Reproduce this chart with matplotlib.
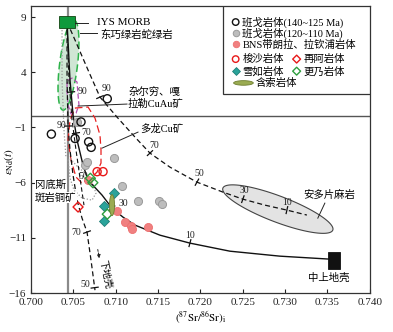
import numpy as np
import matplotlib
matplotlib.use('Agg')
import matplotlib.pyplot as plt
from matplotlib.patches import Rectangle, Ellipse, Polygon

plt.rcParams['font.family'] = ['Liberation Serif', 'Noto Sans CJK SC']
plt.rcParams['mathtext.fontset'] = 'stix'
plt.rcParams['axes.unicode_minus'] = True

# ---------------- data ----------------
bango_old_x = [0.7090, 0.7024, 0.7059, 0.7052, 0.7068, 0.7071]
bango_old_y = [1.6, -1.6, -0.5, -2.0, -2.3, -2.8]
bango_young_x = [0.7054, 0.7098, 0.7064, 0.7066, 0.7107, 0.7126, 0.7151, 0.7155]
bango_young_y = [-0.5, -3.8, -4.4, -4.1, -6.3, -7.7, -7.7, -7.9]
bns_x = [0.7111, 0.7118, 0.7119, 0.7138, 0.7102, 0.7067]
bns_y = [-9.6, -9.9, -10.2, -10.0, -8.6, -5.8]
suosha_x = [0.7078, 0.7085]
suosha_y = [-5.0, -5.0]
zaia_x = [0.70555]
zaia_y = [-8.2]
xueru_x = [0.7098, 0.7086, 0.7086]
xueru_y = [-6.9, -8.1, -9.5]
gengnai_x = [0.7070, 0.7073, 0.7090]
gengnai_y = [-5.6, -6.0, -8.85]
hansuo_center = (0.70956, -8.03)
hansuo_size = (0.0006, 1.9)

# end members
morb_x, morb_y = [0.70330, 0.70519], [8.0, 9.09]
ucc_x, ucc_y = [0.73504, 0.73646], [-13.83, -12.29]
bulk_earth_sr = 0.7044
chur_nd = 0.0

# mixing curve MORB -> upper crust (solid)
mix_uc_x = [0.70425, 0.70460, 0.70496, 0.70543, 0.70614, 0.70673, 0.70838, 0.70956,
            0.71086, 0.71227, 0.71522, 0.71876, 0.72348, 0.72938, 0.73528]
mix_uc_y = [8.55, 3.29, 0.12, -2.14, -4.41, -5.76, -7.12, -8.30,
            -9.12, -9.84, -10.75, -11.47, -12.20, -12.65, -12.92]
mix_uc_tick_x = [0.70472, 0.70531, 0.70673, 0.70956, 0.71876]
mix_uc_tick_y = [2.21, -1.51, -5.76, -8.30, -11.47]
mix_uc_labels = ['90', '70', '50', '30', '10']

# mixing curve MORB -> Amdo gneiss (dashed)
mix_amdo_x = [0.70425, 0.70519, 0.70673, 0.70814, 0.71015, 0.71227, 0.71404, 0.71640,
              0.71959, 0.72265, 0.72501, 0.72761, 0.73021, 0.73257]
mix_amdo_y = [8.55, 6.92, 4.20, 1.75, -0.06, -1.87, -3.32, -4.59,
              -5.95, -6.85, -7.49, -8.03, -8.48, -8.93]
mix_amdo_tick_x = [0.70814, 0.71404, 0.71959, 0.72501, 0.73021]
mix_amdo_tick_y = [1.75, -3.32, -5.95, -7.49, -8.48]
mix_amdo_labels = ['90', '70', '50', '30', '10']

# mixing curve MORB -> lower crust (dashed)
mix_lc_x = [0.70425, 0.70425, 0.70437, 0.70460, 0.70496, 0.70543, 0.70602, 0.70661, 0.70708, 0.70755]
mix_lc_y = [8.55, 3.29, -0.87, -3.05, -5.31, -7.58, -9.21, -10.47, -13.01, -15.73]
mix_lc_tick_x = [0.70437, 0.70661, 0.70752]
mix_lc_tick_y = [-0.87, -10.47, -15.5]
mix_lc_labels = ['90', '70', '50']

# second dashed line towards Gangdese field
mix_gd_x = [0.70425, 0.70448, 0.70484, 0.70531, 0.70578, 0.70625]
mix_gd_y = [8.55, 3.29, -0.33, -3.05, -5.58, -8.03]

# dotted line + Gangdese porphyry Cu field
dot_x = [0.70366, 0.70366, 0.70389, 0.70413]
dot_y = [7.82, 3.29, -1.24, -3.77]
gangdese_x = [0.70437, 0.70460, 0.70507, 0.70602, 0.70720, 0.70767, 0.70720, 0.70625, 0.70531, 0.70460]
gangdese_y = [-3.95, -5.58, -6.67, -7.39, -7.58, -6.94, -5.95, -5.04, -4.41, -3.77]

# Zaergiong / Galale CuAu field (purple)
zeq_x = [0.70437, 0.70484, 0.70543, 0.70555, 0.70566, 0.70531, 0.70472, 0.70437, 0.70425, 0.70425]
zeq_y = [3.29, 3.47, 3.11, 1.93, 1.03, 0.30, 0.21, 1.03, 2.21, 2.93]

# Duolong Cu field (red)
duolong_x = [0.70519, 0.70673, 0.70755, 0.70814, 0.70826, 0.70826, 0.70779, 0.70696,
             0.70602, 0.70531, 0.70472, 0.70437, 0.70460]
duolong_y = [0.76, 0.85, -0.15, -1.69, -3.05, -4.22, -5.04, -5.67,
             -6.04, -5.49, -3.95, -2.14, -0.33]

# Dongqiao ophiolite field (ellipse: centre, semi-axis vectors)
dq_center = (0.70442, 4.65)
dq_axis1 = (0.00065, 4.08)
dq_axis2 = (0.00105, -0.10)

# Amdo gneiss field
amdo_center = (0.72914, -8.39)
amdo_axis1 = (0.00649, -1.90)
amdo_axis2 = (-0.00054, -1.10)

xticks = [0.700, 0.705, 0.710, 0.715, 0.720, 0.725, 0.730, 0.735, 0.740]
yticks = [9, 4, -1, -6, -11, -16]

# ---------------- figure ----------------
fig = plt.figure(figsize=(3.93, 3.32), dpi=100)
ax = fig.add_axes([0.079, 0.117, 0.862, 0.865])
ax.set_xlim(0.700, 0.740)
ax.set_ylim(-16, 10)

ax.set_xticks(xticks)
ax.set_xticklabels(['%.3f' % v for v in xticks])
ax.set_yticks(yticks)
ax.set_yticklabels(['\u2212%d' % -v if v < 0 else '%d' % v for v in yticks])
ax.tick_params(direction='in', length=3, width=0.8, labelsize=8, colors='#222')
for s in ax.spines.values():
    s.set_color('#333')
    s.set_linewidth(0.9)

ax.set_xlabel(r'$(^{87}\mathrm{Sr}/^{86}\mathrm{Sr})_\mathrm{i}$', fontsize=8, labelpad=2)
ax.set_ylabel(r'$\varepsilon_\mathrm{Nd}(t)$', fontsize=8)
ax.yaxis.set_label_coords(-0.045, 0.46)

# reference lines
ax.axvline(bulk_earth_sr, color='#8a8a8a', lw=1.6, zorder=1)
ax.axhline(chur_nd, color='#555', lw=1.0, zorder=1)

def ellipse_pts(c, a1, a2, n=200):
    t = np.linspace(0, 2 * np.pi, n)
    return np.column_stack([c[0] + a1[0] * np.cos(t) + a2[0] * np.sin(t),
                            c[1] + a1[1] * np.cos(t) + a2[1] * np.sin(t)])

# fields
ax.add_patch(Polygon(ellipse_pts(dq_center, dq_axis1, dq_axis2), closed=True,
                     fc='#cfe6d4', ec='#2db34a', lw=1.1, ls=(0, (5, 2.5)), zorder=2))
ax.add_patch(Polygon(ellipse_pts(amdo_center, amdo_axis1, amdo_axis2), closed=True,
                     fc='#e3e3e3', ec='#444', lw=0.8, zorder=2))
ax.add_patch(Polygon(np.column_stack([zeq_x, zeq_y]), closed=True, fill=False,
                     ec='#b050b0', lw=0.9, ls=(0, (4, 2)), zorder=3))
ax.add_patch(Polygon(np.column_stack([duolong_x, duolong_y]), closed=True, fill=False,
                     ec='#e82020', lw=0.9, ls=(0, (6, 3)), zorder=3))
ax.add_patch(Polygon(np.column_stack([gangdese_x, gangdese_y]), closed=True, fill=False,
                     ec='#999', lw=0.9, ls=(0, (1, 1.5)), zorder=3))
ax.plot(dot_x, dot_y, color='#999', lw=0.9, ls=(0, (1, 1.5)), zorder=3)

# mixing curves
ax.plot(mix_uc_x, mix_uc_y, color='#111', lw=1.0, zorder=4)
ax.plot(mix_amdo_x, mix_amdo_y, color='#111', lw=0.9, ls=(0, (4, 2.5)), zorder=4)
ax.plot(mix_lc_x, mix_lc_y, color='#111', lw=0.9, ls=(0, (4, 2.5)), zorder=4)
ax.plot(mix_gd_x, mix_gd_y, color='#111', lw=0.8, ls=(0, (4, 2.5)), zorder=4)


def curve_ticks(cx, cy, tx, ty, labels, offs, half=3.5):
    P = ax.transData.transform(np.column_stack([cx, cy]))
    inv = ax.transData.inverted()
    for x, y, lab, (ox, oy) in zip(tx, ty, labels, offs):
        q = ax.transData.transform((x, y))
        best = None
        for i in range(len(P) - 1):
            a, b = P[i], P[i + 1]
            d = b - a
            L2 = (d ** 2).sum()
            if L2 == 0:
                continue
            t = np.clip(((q - a) @ d) / L2, 0, 1)
            proj = a + t * d
            dist = np.hypot(*(q - proj))
            if best is None or dist < best[0]:
                best = (dist, proj, d / np.sqrt(L2))
        _, proj, u = best
        nrm = np.array([-u[1], u[0]])
        p1 = inv.transform(proj + nrm * half)
        p2 = inv.transform(proj - nrm * half)
        ax.plot([p1[0], p2[0]], [p1[1], p2[1]], color='#111', lw=0.9, zorder=4)
        pd = inv.transform(proj)
        ax.annotate(lab, pd, xytext=(ox, oy), textcoords='offset pixels',
                    ha='center', va='center', fontsize=7, color='#222', zorder=6)

curve_ticks(mix_uc_x, mix_uc_y, mix_uc_tick_x, mix_uc_tick_y, mix_uc_labels,
            [(11, 1), (10, 1), (-5, 4), (11, 5), (0, 8)])
curve_ticks(mix_amdo_x, mix_amdo_y, mix_amdo_tick_x, mix_amdo_tick_y, mix_amdo_labels,
            [(7, 9), (4, 8), (2, 9), (2, 9), (0, 8)])
curve_ticks(mix_lc_x, mix_lc_y, mix_lc_tick_x, mix_lc_tick_y, mix_lc_labels,
            [(-7, 1), (-11, 0), (-9, 3)])

# end-member boxes
ax.add_patch(Rectangle((morb_x[0], morb_y[0]), morb_x[1] - morb_x[0], morb_y[1] - morb_y[0],
                       fc='#0f9a3c', ec='#114411', lw=0.6, zorder=5))
ax.add_patch(Rectangle((ucc_x[0], ucc_y[0]), ucc_x[1] - ucc_x[0], ucc_y[1] - ucc_y[0],
                       fc='#111', ec='#111', lw=0.6, zorder=5))

# samples
ms = 34
ax.scatter(bango_young_x, bango_young_y, s=ms, marker='o', fc='#bdbdbd', ec='#9a9a9a', lw=0.7, zorder=7)
ax.scatter(bango_old_x, bango_old_y, s=ms, marker='o', fc='none', ec='#111', lw=1.0, zorder=7)
ax.scatter(bns_x, bns_y, s=ms, marker='o', fc='#f08080', ec='#ee7070', lw=0.6, zorder=7)
ax.scatter(suosha_x, suosha_y, s=ms, marker='o', fc='none', ec='#e81818', lw=1.0, zorder=7)
ax.scatter(zaia_x, zaia_y, s=26, marker='D', fc='none', ec='#e81818', lw=1.0, zorder=7)
ax.scatter(xueru_x, xueru_y, s=26, marker='D', fc='#2aa39a', ec='#1f7f78', lw=0.6, zorder=7)
ax.scatter(gengnai_x, gengnai_y, s=26, marker='D', fc='none', ec='#2e9e3e', lw=1.0, zorder=7)
ax.add_patch(Ellipse(hansuo_center, hansuo_size[0], hansuo_size[1],
                     fc='#9aab52', ec='#6e7e30', lw=0.6, zorder=7))

# annotations
lead = dict(color='#222', lw=0.7, zorder=6)
ax.plot([0.70519, 0.70673], [8.46, 8.46], **lead)
ax.text(0.70779, 8.46, 'IYS MORB', fontsize=8, va='center', ha='left')
ax.plot([0.70578, 0.70779], [7.55, 7.55], **lead)
ax.text(0.70814, 7.37, '东巧绿岩蛇绿岩', fontsize=7.5, va='center', ha='left')
ax.plot([0.70555, 0.71133], [0.94, 1.12], **lead)
ax.text(0.71145, 2.21, '杂尔穷、嘎', fontsize=7.5, va='center', ha='left')
ax.text(0.71145, 1.10, '拉勒CuAu矿', fontsize=7.5, va='center', ha='left')
ax.plot([0.70838, 0.71263], [-2.87, -1.42], **lead)
ax.text(0.71286, -1.15, '多龙Cu矿', fontsize=7.5, va='center', ha='left')
ax.text(0.70047, -6.22, '冈底斯', fontsize=7.5, va='center', ha='left',
        bbox=dict(fc='white', ec='none', pad=0.3), zorder=5)
ax.text(0.70047, -7.35, '斑岩铜矿', fontsize=7.5, va='center', ha='left',
        bbox=dict(fc='white', ec='none', pad=0.3), zorder=5)
ax.plot([0.73386, 0.73469], [-9.21, -7.85], **lead)
ax.text(0.73209, -7.12, '安多片麻岩', fontsize=7.5, va='center', ha='left')
ax.text(0.73268, -14.64, '中上地壳', fontsize=7.5, va='center', ha='left')
ax.annotate('', xy=(0.70812, -13.1), xytext=(0.70782, -11.8),
            arrowprops=dict(arrowstyle='-|>', lw=0.7, ls=(0, (2, 1.5)), color='#222',
                            mutation_scale=5), zorder=6)
ax.text(0.70880, -14.3, '下地壳', fontsize=7, rotation=-78, va='center', ha='center')

# legend (drawn manually in axes fraction)
tA = ax.transAxes
ax.add_patch(Rectangle((0.568, 0.693), 0.432, 0.307, transform=tA, fc='white',
                       ec='#333', lw=0.9, zorder=8))
rows = [0.944, 0.905, 0.866, 0.815, 0.773, 0.732]
mx1, tx1, mx2, tx2 = 0.604, 0.624, 0.784, 0.804
lk = dict(transform=tA, zorder=9, s=22, clip_on=False)
ax.scatter([mx1], [rows[0]], marker='o', fc='none', ec='#111', lw=1.0, **lk)
ax.scatter([mx1], [rows[1]], marker='o', fc='#bdbdbd', ec='#9a9a9a', lw=0.7, **lk)
ax.scatter([mx1], [rows[2]], marker='o', fc='#f08080', ec='#ee7070', lw=0.6, **lk)
ax.scatter([mx1], [rows[3]], marker='o', fc='none', ec='#e81818', lw=1.0, **lk)
ax.scatter([mx2], [rows[3]], marker='D', fc='none', ec='#e81818', lw=1.0, **dict(lk, s=16))
ax.scatter([mx1], [rows[4]], marker='D', fc='#2aa39a', ec='#1f7f78', lw=0.6, **dict(lk, s=16))
ax.scatter([mx2], [rows[4]], marker='D', fc='none', ec='#2e9e3e', lw=1.0, **dict(lk, s=16))
ax.add_patch(Ellipse((0.627, rows[5]), 0.058, 0.016, transform=tA, fc='#9aab52',
                     ec='#6e7e30', lw=0.6, zorder=9))
lt = dict(transform=tA, fontsize=7.5, va='center', ha='left', zorder=9)
ax.text(tx1, rows[0], '班戈岩体(140~125 Ma)', **lt)
ax.text(tx1, rows[1], '班戈岩体(120~110 Ma)', **lt)
ax.text(tx1, rows[2], 'BNS带朗拉、拉钦浦岩体', **lt)
ax.text(tx1, rows[3], '梭沙岩体', **lt)
ax.text(tx2, rows[3], '再阿岩体', **lt)
ax.text(tx1, rows[4], '雪如岩体', **lt)
ax.text(tx2, rows[4], '更乃岩体', **lt)
ax.text(0.663, rows[5], '含索岩体', **lt)

fig.savefig('out.png', dpi=100)
